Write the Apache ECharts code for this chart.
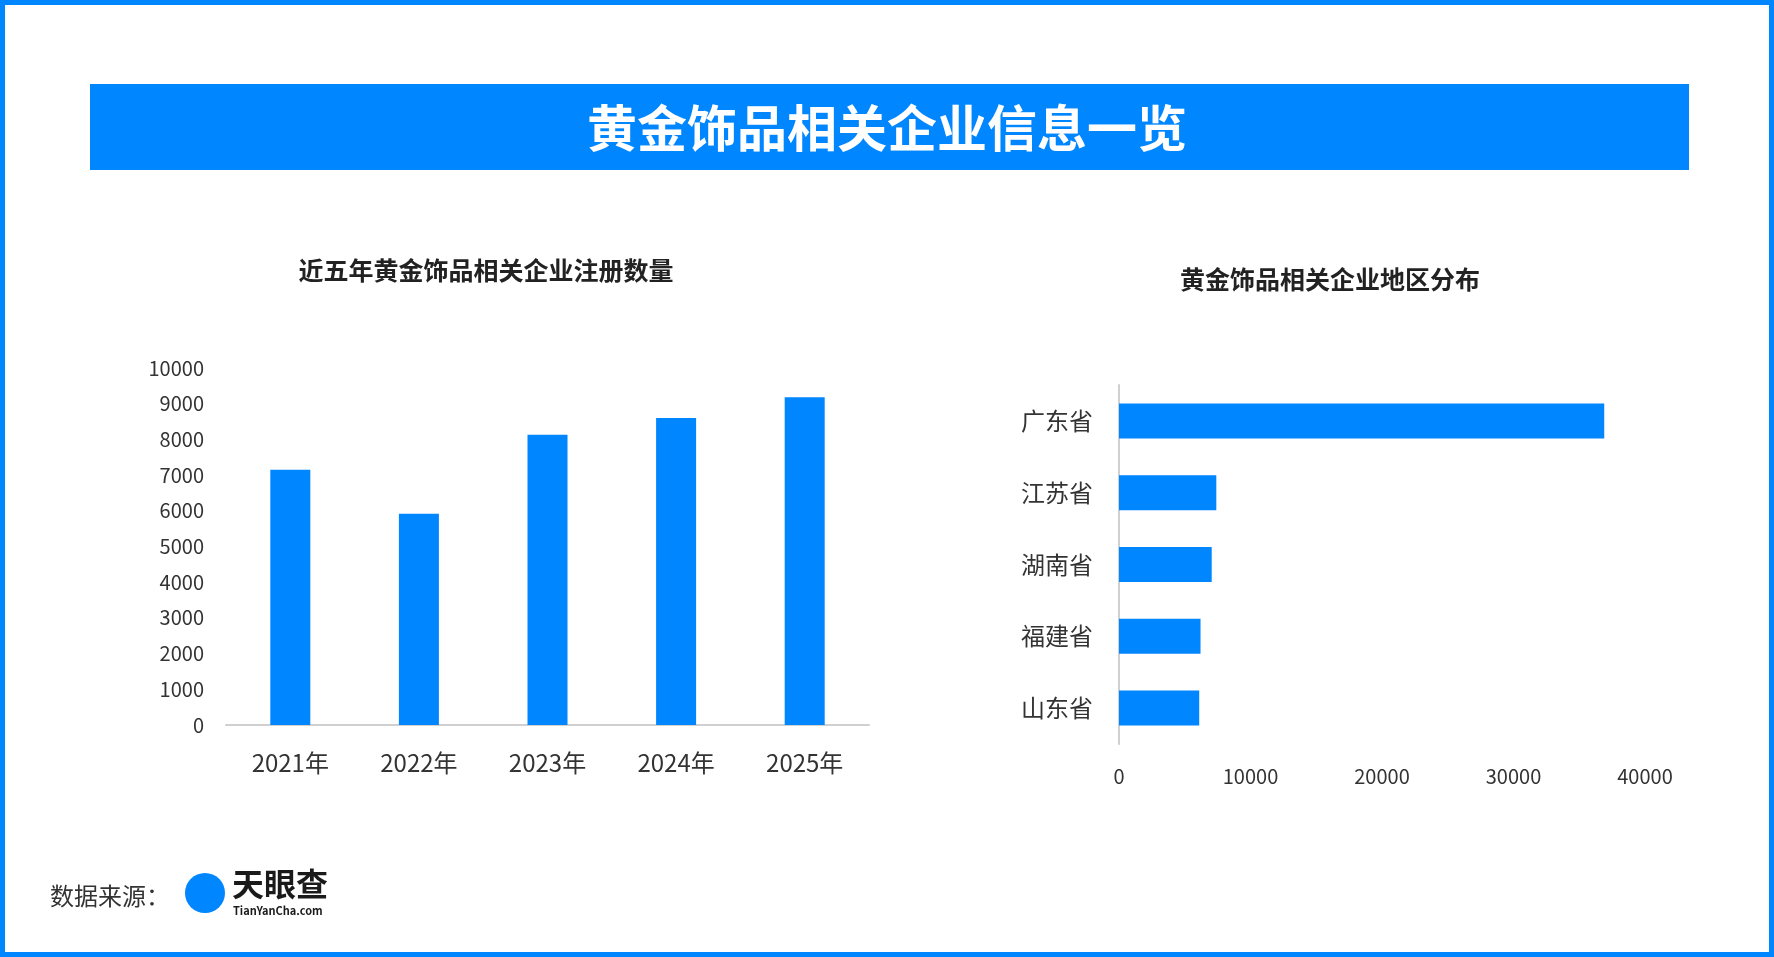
<!DOCTYPE html>
<html><head><meta charset="utf-8">
<script src="https://cdn.jsdelivr.net/npm/echarts@6/dist/echarts.min.js"></script>
<style>html,body{margin:0;padding:0;background:#fff}#c{width:1774px;height:957px}</style>
</head><body><div id="c"></div>
<script>
const years = ['2021年','2022年','2023年','2024年','2025年'];
const yearValues = [7150, 5920, 8130, 8600, 9180];
const provinces = ['山东省','福建省','湖南省','江苏省','广东省'];
const provinceValues = [6100, 6200, 7050, 7400, 36900];
const blue = '#0086FF';
const F = '"Noto Sans CJK SC","Noto Sans",sans-serif';
const plain = v => String(v);
const chart = echarts.init(document.getElementById('c'));
chart.setOption({
  backgroundColor:'#fff',
  textStyle:{fontFamily:F},
  title:[
    {text:'近五年黄金饰品相关企业注册数量',left:481,top:253,textAlign:'center',textStyle:{fontSize:25,fontWeight:'bold',color:'#222',fontFamily:F}},
    {text:'黄金饰品相关企业地区分布',left:1325,top:262,textAlign:'center',textStyle:{fontSize:25,fontWeight:'bold',color:'#222',fontFamily:F}}
  ],
  graphic:[
    {type:'rect',shape:{x:2.5,y:2.5,width:1769,height:952},style:{fill:'none',stroke:blue,lineWidth:5}},
    {type:'rect',shape:{x:90,y:84,width:1599,height:86},style:{fill:blue}},
    {type:'text',x:887,y:128,style:{text:'黄金饰品相关企业信息一览',fill:'#fff',font:'bold 50px '+F,textAlign:'center',textVerticalAlign:'middle'}},
    {type:'text',x:50,y:896,style:{text:'数据来源：',fill:'#333',font:'24px '+F,textVerticalAlign:'middle'}},
    {type:'circle',shape:{cx:205,cy:893,r:20},style:{fill:blue}},
    {type:'text',x:232,y:884,style:{text:'天眼查',fill:'#1a1a1a',font:'bold 32px '+F,textVerticalAlign:'middle'}},
    {type:'text',x:233,y:911,style:{text:'TianYanCha.com',fill:'#1a1a1a',font:'bold 11px '+F,textVerticalAlign:'middle'}}
  ],
  grid:[
    {left:226,top:368,width:643,height:357},
    {left:1119,top:385,width:526,height:359}
  ],
  xAxis:[
    {type:'category',gridIndex:0,data:years,axisTick:{show:false},axisLine:{lineStyle:{color:'#d0d0d0',width:2}},axisLabel:{fontSize:24,color:'#333',margin:26}},
    {type:'value',gridIndex:1,min:0,max:40000,interval:10000,axisLine:{show:false},axisTick:{show:false},splitLine:{show:false},axisLabel:{fontSize:20,color:'#333',margin:22,formatter:plain}}
  ],
  yAxis:[
    {type:'value',gridIndex:0,min:0,max:10000,interval:1000,axisLine:{show:false},axisTick:{show:false},splitLine:{show:false},axisLabel:{fontSize:20,color:'#333',margin:22,formatter:plain}},
    {type:'category',gridIndex:1,data:provinces,axisTick:{show:false},axisLine:{lineStyle:{color:'#d0d0d0',width:2}},axisLabel:{fontSize:24,color:'#333',margin:26}}
  ],
  series:[
    {type:'bar',xAxisIndex:0,yAxisIndex:0,data:yearValues,barWidth:40,itemStyle:{color:blue}},
    {type:'bar',xAxisIndex:1,yAxisIndex:1,data:provinceValues,barWidth:35,itemStyle:{color:blue}}
  ]
});
</script></body></html>
